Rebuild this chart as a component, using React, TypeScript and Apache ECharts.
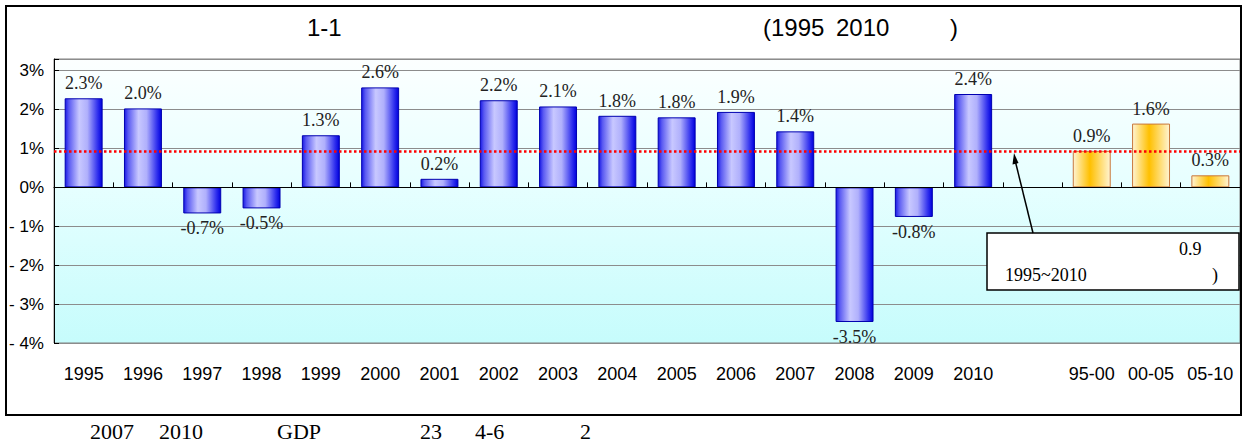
import React, { useEffect, useRef } from "react";
import * as echarts from "echarts";

// ---- data ----
const yearLabels = ["1995", "1996", "1997", "1998", "1999", "2000", "2001", "2002", "2003", "2004", "2005", "2006", "2007", "2008", "2009", "2010"];
const periodLabels = ["95-00", "00-05", "05-10"];
const yearGrowth = [2.29, 2.03, -0.67, -0.54, 1.34, 2.57, 0.22, 2.24, 2.08, 1.84, 1.8, 1.94, 1.44, -3.46, -0.76, 2.4];
const periodGrowth = [0.94, 1.64, 0.31];
const averageGrowth = 0.94;
const yMin = -4;
const yMax = 3.3;
const yStep = 1;

const titleParts = ["1-1", "(1995", "2010", ")"];
const noteBoxLines = ["0.9", "1995~2010", ")"];
const footnoteParts = ["2007", "2010", "GDP", "23", "4-6", "2"];

// ---- layout (positions only) ----
const titleX = [307, 763, 836, 950];
const footnoteX = [90, 159, 277, 420, 475, 580];

export default function App() {
  const ref = useRef<HTMLDivElement>(null);

  useEffect(() => {
    if (!ref.current) return;
    const chart = echarts.init(ref.current, null, { renderer: "svg" });

    const blueFill = new echarts.graphic.LinearGradient(0, 0, 1, 0, [
      { offset: 0, color: "#1a1ae6" },
      { offset: 0.1, color: "#5a5af2" },
      { offset: 0.38, color: "#c8c8ff" },
      { offset: 0.6, color: "#b0b0fc" },
      { offset: 0.88, color: "#3030ee" },
      { offset: 1, color: "#0000dd" },
    ]);
    const orangeFill = new echarts.graphic.LinearGradient(0, 0, 1, 0, [
      { offset: 0, color: "#fff4d2" },
      { offset: 0.45, color: "#ffc000" },
      { offset: 1, color: "#fff4d2" },
    ]);

    const categories = [...yearLabels, "", ...periodLabels];
    const makeItem = (v: number, fill: any, border: string) => ({
      value: v,
      itemStyle: { color: fill, borderColor: border, borderWidth: 1 },
      label: { position: v < 0 ? "bottom" : "top" },
    });
    const data: any[] = [
      ...yearGrowth.map((v) => makeItem(v, blueFill, "#0000b0")),
      "-",
      ...periodGrowth.map((v) => makeItem(v, orangeFill, "#c8783c")),
    ];

    const serif = "Liberation Serif, Times New Roman, serif";
    const sans = "Liberation Sans, Arial, sans-serif";

    const graphic: any[] = [
      {
        type: "rect",
        shape: { x: 6, y: 6, width: 1235, height: 409 },
        style: { fill: "none", stroke: "#000", lineWidth: 2 },
        z: 100,
      },
      ...titleParts.map((t, i) => ({
        type: "text",
        x: titleX[i],
        y: 27,
        style: { text: t, fill: "#000", font: `24px ${sans}`, align: "left", verticalAlign: "middle" },
      })),
      {
        type: "rect",
        shape: { x: 987, y: 233, width: 252, height: 57 },
        style: { fill: "#fff", stroke: "#000", lineWidth: 1.5 },
        z: 100,
      },
      {
        type: "text",
        x: 1179,
        y: 249,
        z: 101,
        style: { text: noteBoxLines[0], fill: "#000", font: `18px ${serif}`, align: "left", verticalAlign: "middle" },
      },
      {
        type: "text",
        x: 1005,
        y: 275,
        z: 101,
        style: { text: noteBoxLines[1], fill: "#000", font: `18px ${serif}`, align: "left", verticalAlign: "middle" },
      },
      {
        type: "text",
        x: 1212,
        y: 275,
        z: 101,
        style: { text: noteBoxLines[2], fill: "#000", font: `18px ${serif}`, align: "left", verticalAlign: "middle" },
      },
      {
        type: "line",
        shape: { x1: 1033, y1: 233, x2: 1015, y2: 160 },
        style: { stroke: "#000", lineWidth: 1.5 },
        z: 100,
      },
      {
        type: "polygon",
        shape: { points: [[1014, 153], [1018.5, 163], [1012.5, 164.5]] },
        style: { fill: "#000" },
        z: 100,
      },
      ...footnoteParts.map((t, i) => ({
        type: "text",
        x: footnoteX[i],
        y: 431,
        style: { text: t, fill: "#000", font: `22px ${serif}`, align: "left", verticalAlign: "middle" },
      })),
    ];

    chart.setOption({
      animation: false,
      backgroundColor: "#ffffff",
      grid: {
        left: 54,
        right: 7,
        top: 59,
        bottom: 100,
        show: true,
        borderColor: "#808080",
        borderWidth: 1,
        backgroundColor: new echarts.graphic.LinearGradient(0, 0, 0, 1, [
          { offset: 0, color: "#fcffff" },
          { offset: 0.45, color: "#e6ffff" },
          { offset: 1, color: "#c6fcfc" },
        ]),
      },
      xAxis: [
        {
          type: "category",
          data: categories,
          axisLine: { onZero: true, lineStyle: { color: "#000", width: 1 } },
          axisTick: { show: true, inside: true, length: 5, interval: 0, lineStyle: { color: "#000" } },
          axisLabel: { show: false },
          splitLine: { show: false },
          z: 5,
        },
        {
          type: "category",
          data: categories,
          position: "bottom",
          axisLine: { show: false, onZero: false },
          axisTick: { show: false },
          axisLabel: { show: true, interval: 0, margin: 22, color: "#000", fontSize: 18, fontFamily: sans },
          splitLine: { show: false },
        },
      ],
      yAxis: {
        type: "value",
        min: yMin,
        max: yMax,
        interval: yStep,
        axisLine: { show: true, lineStyle: { color: "#000", width: 1 } },
        axisTick: { show: true, inside: true, length: 5, lineStyle: { color: "#000" } },
        axisLabel: {
          margin: 10,
          color: "#000",
          fontSize: 17,
          fontFamily: sans,
          formatter: (v: number) => {
            if (Math.abs(v - Math.round(v)) > 1e-6) return "";
            const r = Math.round(v);
            return r < 0 ? `- ${Math.abs(r)}%` : `${r}%`;
          },
        },
        splitLine: { show: true, lineStyle: { color: "#8c8c8c", width: 1 } },
      },
      series: [
        {
          type: "bar",
          xAxisIndex: 0,
          data,
          barCategoryGap: "36%",
          label: {
            show: true,
            position: "top",
            distance: 6,
            color: "#222",
            fontSize: 18,
            fontFamily: serif,
            formatter: (p: any) => `${Number(p.value).toFixed(1)}%`,
          },
          markLine: {
            silent: true,
            symbol: "none",
            label: { show: false },
            lineStyle: { color: "#ff0000", type: [2.5, 2.5], width: 2.5 },
            data: [{ yAxis: averageGrowth }],
            z: 10,
          },
        },
      ],
      graphic,
    });

    return () => chart.dispose();
  }, []);

  return (
    <div
      ref={ref}
      style={{ position: "absolute", left: 0, top: 0, width: 1247, height: 443, background: "#fff" }}
    />
  );
}
